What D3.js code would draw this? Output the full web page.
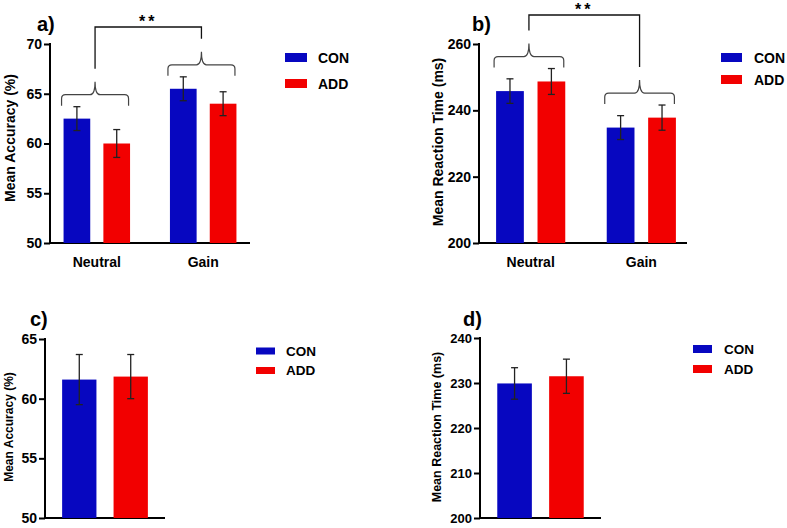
<!DOCTYPE html>
<html>
<head>
<meta charset="utf-8">
<script src="https://cdnjs.cloudflare.com/ajax/libs/d3/7.8.5/d3.min.js"></script>
<style>
body { margin: 0; background: #fff; }
text { font-family: Arial, "Liberation Sans", Helvetica, sans-serif; font-weight: bold; fill: #000; }
</style>
</head>
<body>
<svg id="chart" width="787" height="528"></svg>
<script>
// data
var conditions = ["Neutral", "Gain"];
var groups = ["CON", "ADD"];
var accCon = [62.5, 65.5];
var accConErr = [1.2, 1.2];
var accAdd = [60.0, 64.0];
var accAddErr = [1.4, 1.2];
var rtCon = [245.8, 234.8];
var rtConErr = [3.7, 3.6];
var rtAdd = [248.7, 237.8];
var rtAddErr = [3.9, 3.8];
var accAll = [61.6, 61.85];
var accAllErr = [2.1, 1.85];
var rtAll = [229.9, 231.5];
var rtAllErr = [3.5, 3.8];
var accTicks = [50, 55, 60, 65, 70];
var rtTicks = [200, 220, 240, 260];
var accAllTicks = [50, 55, 60, 65];
var rtAllTicks = [200, 210, 220, 230, 240];

var colors = { CON: "#0707c0", ADD: "#f20000" };
var svg = d3.select("#chart");
svg.append("rect").attr("width", 787).attr("height", 528).attr("fill", "#fff");

function yAxisPanel(g, p) {
    var y = d3.scaleLinear().domain(p.domain).range([p.bottom, p.top]);
    var ax = g.append("g").attr("transform", "translate(" + p.left + ",0)")
        .call(d3.axisLeft(y).tickValues(p.ticks).tickSize(6).tickPadding(2));
    ax.select(".domain").attr("stroke", "#000").attr("stroke-width", 2).attr("d", "M0," + (p.bottom + 1) + "V" + (p.top - 1));
    ax.selectAll(".tick line").attr("stroke", "#000").attr("stroke-width", 2);
    ax.selectAll(".tick text").style("font-size", p.tickSize + "px").attr("fill", "#000");
    g.append("line").attr("x1", p.left - 1).attr("x2", p.right).attr("y1", p.bottom).attr("y2", p.bottom)
        .attr("stroke", "#000").attr("stroke-width", 2);
    g.append("text").attr("transform", "translate(" + p.labelX + "," + p.labelY + ") rotate(-90)")
        .attr("text-anchor", "middle").attr("dy", "0.35em").style("font-size", p.labelSize + "px").text(p.label);
    g.append("text").attr("x", p.titleX).attr("y", p.titleY).style("font-size", "20px").text(p.title);
    return y;
}

function errorBar(g, x, y, mean, err) {
    g.append("line").attr("x1", x).attr("x2", x).attr("y1", y(mean + err)).attr("y2", y(mean - err))
        .attr("stroke", "#222").attr("stroke-width", 1.3);
    [mean + err, mean - err].forEach(function(v) {
        g.append("line").attr("x1", x - 3.5).attr("x2", x + 3.5).attr("y1", y(v)).attr("y2", y(v))
            .attr("stroke", "#222").attr("stroke-width", 1.3);
    });
}

function legend(g, p) {
    groups.forEach(function(name, i) {
        var cy = p.legY[i];
        g.append("rect").attr("x", p.legX).attr("y", cy - p.legH / 2).attr("width", p.legW).attr("height", p.legH)
            .attr("fill", colors[name]);
        g.append("text").attr("x", p.legTextX).attr("y", cy).attr("dy", "0.36em")
            .style("font-size", p.legSize + "px").text(name);
    });
}

function brace(g, x0, x1, yTip, yH, yPeak) {
    var cx = (x0 + x1) / 2;
    var d = "M" + x0 + "," + yTip + " L" + x0 + "," + (yH + 4) + " Q" + x0 + "," + yH + " " + (x0 + 4) + "," + yH +
        " L" + (cx - 5) + "," + yH + " Q" + cx + "," + yH + " " + cx + "," + yPeak +
        " Q" + cx + "," + yH + " " + (cx + 5) + "," + yH +
        " L" + (x1 - 4) + "," + yH + " Q" + x1 + "," + yH + " " + x1 + "," + (yH + 4) + " L" + x1 + "," + yTip;
    g.append("path").attr("d", d).attr("fill", "none").attr("stroke", "#444").attr("stroke-width", 1.2);
    return cx;
}

function groupedPanel(p, con, conErr, add, addErr) {
    var g = svg.append("g");
    var y = yAxisPanel(g, p);
    var x0 = d3.scaleBand().domain(conditions).range([p.bandLeft, p.bandRight]).paddingInner(0.3).paddingOuter(0.09);
    var x1 = d3.scaleBand().domain(groups).range([0, x0.bandwidth()]).paddingInner(0.33).paddingOuter(0.1);
    var values = { CON: con, ADD: add };
    var errs = { CON: conErr, ADD: addErr };
    var peaks = [];
    conditions.forEach(function(c, i) {
        var top = Infinity;
        groups.forEach(function(s) {
            var bx = x0(c) + x1(s);
            var v = values[s][i], e = errs[s][i];
            g.append("rect").attr("x", bx).attr("y", y(v)).attr("width", x1.bandwidth()).attr("height", y(p.domain[0]) - y(v))
                .attr("fill", colors[s]);
            errorBar(g, bx + x1.bandwidth() / 2, y, v, e);
            top = Math.min(top, y(v + e));
        });
        var tip = top - 1;
        var left = x0(c) + x1("CON") - 2;
        var right = x0(c) + x1("ADD") + x1.bandwidth() - 1.5;
        var cx = brace(g, left, right, tip, tip - 11, tip - 24);
        peaks.push([cx, tip - 24]);
    });
    // significance bracket between conditions
    var path = "M" + peaks[0][0] + "," + (peaks[0][1] - 13) + " V" + p.sigY + " H" + peaks[1][0] + " V" + (peaks[1][1] - 13);
    g.append("path").attr("d", path).attr("fill", "none").attr("stroke", "#111").attr("stroke-width", 1.3);
    g.append("text").attr("x", (peaks[0][0] + peaks[1][0]) / 2).attr("y", p.sigY).attr("text-anchor", "middle")
        .style("font-size", "16px").style("letter-spacing", "3px").attr("fill", "#333").text("**");
    // category labels
    conditions.forEach(function(c) {
        g.append("text").attr("x", x0(c) + x0.bandwidth() / 2).attr("y", p.catY).attr("text-anchor", "middle")
            .style("font-size", "14px").text(c);
    });
    legend(g, p);
}

function overallPanel(p, vals, errs) {
    var g = svg.append("g");
    var y = yAxisPanel(g, p);
    var x = d3.scaleBand().domain(groups).range([p.bandLeft, p.bandRight]).padding(0.333);
    groups.forEach(function(s, i) {
        g.append("rect").attr("x", x(s)).attr("y", y(vals[i])).attr("width", x.bandwidth())
            .attr("height", y(p.domain[0]) - y(vals[i])).attr("fill", colors[s]);
        errorBar(g, x(s) + x.bandwidth() / 2, y, vals[i], errs[i]);
    });
    legend(g, p);
}

groupedPanel({
    domain: [50, 70], ticks: accTicks, top: 44, bottom: 243, left: 50, right: 250, bandLeft: 50, bandRight: 250,
    tickSize: 14, label: "Mean Accuracy (%)", labelX: 10, labelY: 138, labelSize: 14,
    title: "a)", titleX: 37, titleY: 31, sigY: 27, catY: 267,
    legX: 285, legY: [57.5, 83.5], legW: 22, legH: 9, legTextX: 318, legSize: 14
}, accCon, accConErr, accAdd, accAddErr);

groupedPanel({
    domain: [200, 260], ticks: rtTicks, top: 44, bottom: 243, left: 479, right: 687, bandLeft: 482, bandRight: 690,
    tickSize: 14, label: "Mean Reaction Time (ms)", labelX: 438, labelY: 142, labelSize: 14,
    title: "b)", titleX: 472, titleY: 31, sigY: 15, catY: 267,
    legX: 721, legY: [57.5, 79.5], legW: 21, legH: 9, legTextX: 754, legSize: 14
}, rtCon, rtConErr, rtAdd, rtAddErr);

overallPanel({
    domain: [50, 65], ticks: accAllTicks, top: 339, bottom: 518, left: 45, right: 165, bandLeft: 45, bandRight: 165,
    tickSize: 14, label: "Mean Accuracy (%)", labelX: 9, labelY: 427, labelSize: 12,
    title: "c)", titleX: 30, titleY: 326,
    legX: 256, legY: [351, 370.5], legW: 19, legH: 7, legTextX: 286, legSize: 13.5
}, accAll, accAllErr);

overallPanel({
    domain: [200, 240], ticks: rtAllTicks, top: 338, bottom: 518, left: 480, right: 601, bandLeft: 480, bandRight: 601,
    tickSize: 13, label: "Mean Reaction Time (ms)", labelX: 437, labelY: 427, labelSize: 12.5,
    title: "d)", titleX: 463, titleY: 326,
    legX: 693, legY: [349, 369], legW: 19, legH: 8, legTextX: 724, legSize: 13.5
}, rtAll, rtAllErr);
</script>
</body>
</html>
